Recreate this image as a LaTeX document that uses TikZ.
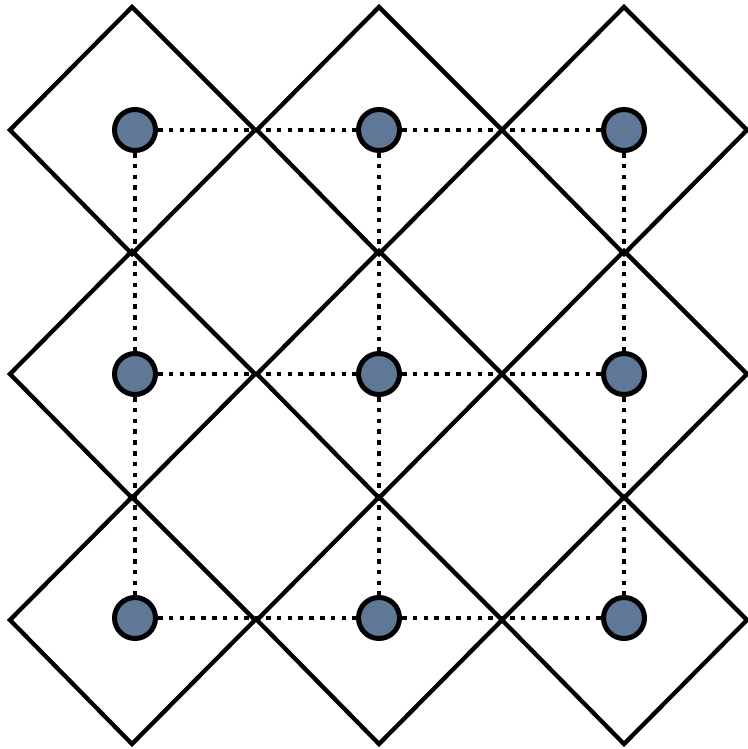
\documentclass[tikz,border=0pt]{standalone}
\usetikzlibrary{calc}
\begin{document}
\begin{tikzpicture}[x=1pt,y=-1pt,
  dot/.style={circle,draw=black,line width=5pt,fill=nodeblue,minimum size=41pt,inner sep=0pt},
  rhomb/.style={draw=black,line width=4.3pt,line join=miter},
  link/.style={draw=black,line width=4.6pt,dash pattern=on 4.6pt off 6.2pt}]
\definecolor{nodeblue}{HTML}{5F7896}
\useasboundingbox (0,0) rectangle (747,749);
% diamonds
\foreach \i/\x in {1/132,2/379,3/624}{
  \foreach \j/\y in {1/130,2/374,3/620}{
    \coordinate (c\i\j) at (\x,\y);
    \draw[rhomb] ($(c\i\j)+(0,-123)$) -- ($(c\i\j)+(123,0)$) -- ($(c\i\j)+(0,124)$) -- ($(c\i\j)+(-122,0)$) -- cycle;
  }}
% nodes
\foreach \i/\x in {1/135,2/379,3/624}{
  \foreach \j/\y in {1/130,2/374,3/618}{
    \node[dot] (n\i\j) at (\x,\y) {};
  }}
% links
\foreach \j in {1,2,3}{
  \draw[link] (n1\j) -- (n2\j);
  \draw[link] (n2\j) -- (n3\j);
  \draw[link] (n\j1) -- (n\j2);
  \draw[link] (n\j2) -- (n\j3);
}
\end{tikzpicture}
\end{document}
